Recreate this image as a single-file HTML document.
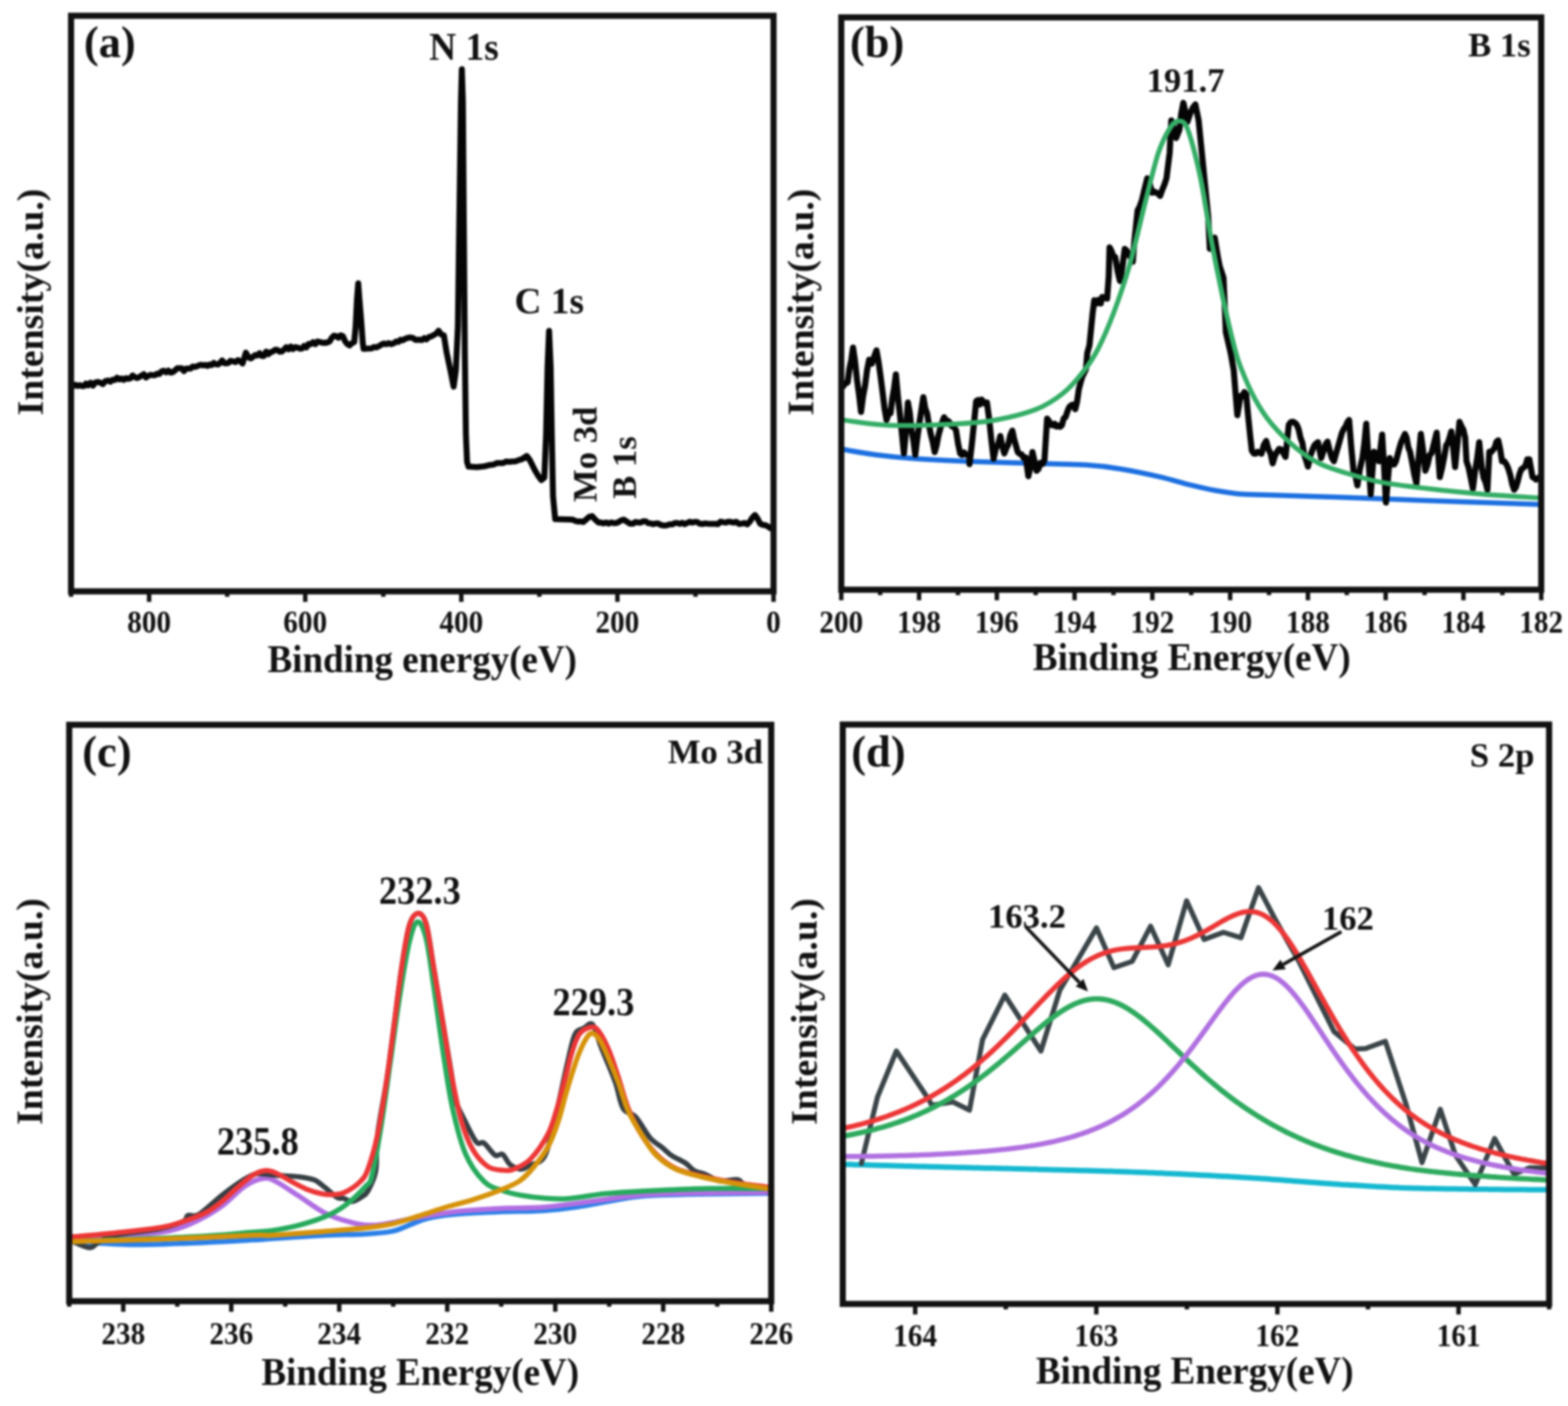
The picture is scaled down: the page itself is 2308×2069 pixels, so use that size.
<!DOCTYPE html>
<html><head><meta charset="utf-8"><title>XPS spectra</title>
<style>html,body{margin:0;padding:0;background:#fff;overflow:hidden}svg{display:block;filter:blur(1.8px)}</style></head>
<body><svg width="2308" height="2069" viewBox="0 0 2308 2069">
<defs><clipPath id="cpa"><rect x="104.6" y="23.2" width="1034" height="847"/></clipPath><clipPath id="cpb"><rect x="1238.3" y="25.6" width="1030.3" height="842.2"/></clipPath><clipPath id="cpc"><rect x="101.9" y="1066.6" width="1033.3" height="848.2"/></clipPath><clipPath id="cpd"><rect x="1240.5" y="1066.2" width="1039.7" height="852.6"/></clipPath></defs>
<rect width="2308" height="2069" fill="#fff"/>
<g font-family="'Liberation Serif','Times New Roman',serif" font-weight="bold" fill="#111">
<g clip-path="url(#cpa)"><path d="M108,568 L111.1,566.2 L114.2,568 L117.3,566.7 L120.3,568.1 L123.4,568.1 L126.5,564.4 L129.6,567 L133.1,563.1 L136.7,567.6 L140.2,563.1 L143.8,562.1 L147.3,563 L151.2,565.2 L155.2,560.8 L159.1,560 L162.4,561.7 L165.7,558.8 L168.9,559.4 L172.2,555.8 L175.5,558.4 L178.8,557 L182.1,559 L185.4,556.5 L188.7,557.5 L191.9,556.8 L195.2,552.5 L198.5,555 L201.8,556.3 L205.1,554.9 L208.3,552.7 L211.6,550.7 L214.9,555.7 L218.2,553 L221.5,551.7 L224.8,552.2 L228.1,552.2 L231.3,550 L234.6,550.3 L237.9,546.5 L241.2,545.6 L244.5,547.9 L247.8,545.4 L251,548.3 L254.3,547.7 L257.6,545 L260.9,542 L264.2,541.8 L267.5,541.9 L270.7,546.2 L274,542.4 L277.3,542.4 L280.5,542.4 L283.6,539.4 L286.8,539.9 L290,539 L293.1,537.6 L296.1,536.8 L299.2,537.7 L302.3,537 L305.4,538.5 L308.5,536.4 L311.5,537.4 L314.6,534 L317.7,535.9 L320.8,536.4 L323.9,534 L327,530.3 L330,534.4 L333.1,534.7 L336.2,534 L339.3,531 L343,531.7 L346.6,532.9 L350.3,529.9 L354,532 L357,535 L361.9,519 L366,526 L369.2,527.4 L372.4,525.1 L375.5,522.5 L378.7,523.2 L382,519.6 L385.3,523.8 L388.5,523.9 L391.8,517.3 L395.1,521 L398.4,518.3 L401.7,517.1 L405,514.7 L408.2,515 L411.5,517.4 L414.8,517.4 L418.1,514.3 L421.4,510.9 L424.7,514.1 L428,509.9 L431.2,513.8 L434.5,510.8 L437.8,511.4 L441.1,513 L444.4,512.8 L447.6,509 L450.9,511.3 L454.2,506.1 L457.5,506.5 L460.8,503.5 L464.1,506.5 L467.4,502.5 L470.6,503.2 L473.9,504.2 L477.2,504.5 L482,504 L485.2,502.4 L488.4,497.1 L491.6,494 L494.8,494.6 L498.1,497 L501.3,493.4 L504.6,494.6 L507.9,502.1 L511.2,506.3 L514.5,508.4 L518,505.1 L521.4,503.4 L523.5,480 L525.5,440 L527.3,417 L529,440 L531.5,470 L534,505 L535.2,513.3 L547.3,512.6 L550.6,510.6 L553.9,511.3 L557.6,509.6 L561.3,507.1 L565,505.5 L568.7,506.4 L572.4,504.9 L576,506.5 L579.7,505 L583.4,502.5 L586.5,503.2 L589.6,499.9 L592.7,500.8 L595.8,498.9 L598.8,497.7 L601.9,496.8 L605,496.7 L608.1,497.5 L611.4,500 L614.7,499.8 L618,500 L621.2,500.3 L624.5,497.6 L627.8,499.5 L631.3,496 L634.9,495 L638.4,493 L642,491 L645.5,486.7 L649.5,492.1 L653.4,493.6 L657.3,518.2 L663,545 L667.7,569 L671,545 L674,480 L676,330 L678.5,150 L679.8,102 L681.3,150 L682.7,330 L684.2,520 L685.8,640 L687.5,680 L689.6,686.6 L702.2,687.3 L706.8,686.8 L711.4,686.3 L716,685.6 L720.6,684.3 L726.2,683.7 L731.7,681.4 L736.1,681.4 L740.6,681.4 L745,679.1 L749.5,679.6 L753.9,679.2 L758.8,678.9 L763.8,677 L768.7,675.5 L775.3,671 L779.8,677 L787.2,691.7 L792,699.9 L796.8,706.5 L801.2,702.8 L803.8,640 L806,540 L808.2,487 L810.5,540 L812.2,640 L814,730 L817.2,763.8 L843,764.7 L846.9,766.6 L850.8,767.6 L854.7,767.2 L858.6,768.1 L862.9,764.4 L867.3,760.6 L871.6,759.5 L876.3,764.8 L881,769 L884.7,769 L888.5,770.2 L892.2,768.9 L895.9,770.5 L899.7,768.8 L903.4,769.8 L907.1,769.6 L910.8,768.1 L914.4,765.7 L918.1,764.7 L922.9,767.8 L927.6,770.7 L931.4,770.7 L935.2,768.2 L939,768.8 L942.8,769 L946.6,767.2 L950.3,767.1 L954,769.8 L957.7,770.1 L961.3,771.4 L965,770.3 L968.7,770.2 L972.4,772.4 L976.7,773.3 L981,773.1 L985.4,771.6 L989.7,771.6 L993.3,769.7 L997,769.7 L1000.6,770.9 L1004.2,769.3 L1007.9,771.3 L1011.5,769.6 L1015.1,767.8 L1018.8,769 L1022.4,768.1 L1026.2,768.1 L1030,770.7 L1033.8,771.1 L1037.6,770.2 L1041.4,770.7 L1045.2,770.9 L1049.1,770.8 L1052.9,770.9 L1056.7,771.3 L1060.6,767.6 L1064.4,768.5 L1068.2,769 L1072.1,767.7 L1075.9,768.1 L1079.9,769 L1083.9,767.8 L1088,771.2 L1092,770.5 L1096,769.6 L1100,771.6 L1103.7,767.6 L1107.5,761.7 L1111.2,757.8 L1115.1,763.2 L1119,770.7 L1122.9,772.4 L1126.8,772.8 L1130.6,774.8 L1134.5,777.6" fill="none" stroke="#050505" stroke-width="8.8" stroke-linejoin="round" stroke-linecap="round" /></g>
<g clip-path="url(#cpb)"><path d="M1240,661.3 C1248.2,662.6 1271.1,666.9 1289.1,669.2 C1307.1,671.5 1325.2,673.5 1348.2,675.1 C1371.2,676.7 1397.4,677.9 1427,679 C1456.6,680.1 1497.3,681.1 1525.6,682 C1553.9,682.9 1576.5,682.8 1597,684.1 C1617.5,685.4 1630.2,687 1648.7,690 C1667.2,693 1690.6,697.9 1707.8,701.9 C1725,705.9 1738.6,710.4 1752.1,713.7 C1765.6,717 1776.7,719.6 1789,721.8 C1801.3,724 1812.3,725.9 1826,727 C1839.7,728.1 1847.7,727.8 1870.9,728.5 C1894.2,729.2 1934,730.4 1965.5,731.5 C1997,732.6 2028.6,733.9 2060.1,735.1 C2091.6,736.3 2120.4,737.4 2154.7,738.6 C2189,739.8 2247.3,741.6 2265.8,742.2" fill="none" stroke="#1c6fe0" stroke-width="7.5" stroke-linejoin="round" stroke-linecap="round" /></g>
<g clip-path="url(#cpb)"><path d="M1240.8,568.7 L1244.2,564.2 L1247.7,562.8 L1250.3,542.6 L1253,530 L1255.6,511.5 L1258.5,531.3 L1261.5,559.1 L1264.5,581.2 L1267.4,606.1 L1270.4,582.9 L1273.3,567.8 L1276.3,544.3 L1279.3,529.3 L1283.2,535.2 L1286.7,524.8 L1290.1,515.5 L1293.1,532.1 L1296,552.8 L1299,576.3 L1301.9,600.4 L1304.9,617.9 L1307.8,609.6 L1310.8,608.1 L1313.4,586.5 L1316.1,571.1 L1318.7,550.9 L1321.7,584 L1324.6,609.7 L1327.5,637.2 L1330.5,667.2 L1333.5,634 L1336.4,592.3 L1339.1,607.4 L1341.8,634 L1344.5,648.1 L1347.2,669.2 L1350.2,644.8 L1353.2,623.4 L1356.1,603.9 L1359.1,584.4 L1361.9,600.7 L1364.7,608.5 L1367.4,625.5 L1370.2,639.5 L1373,650.6 L1375.8,665.2 L1378.6,655.4 L1381.3,640.8 L1384.1,630.5 L1386.8,621.6 L1389.6,614 L1392.1,618.4 L1394.7,619 L1397.2,620.8 L1399.7,626 L1402.2,627.7 L1404.8,629.1 L1407.3,633.7 L1410.3,653.1 L1413.3,667.2 L1416,669.4 L1418.8,665.7 L1421.5,669.1 L1424.3,669 L1427,669.2 L1427,683 L1430.3,655.5 L1433.6,623.3 L1436.9,590.3 L1439.5,588.7 L1442.2,595.3 L1444.8,587.9 L1447.4,590.9 L1450.1,594.3 L1452.7,592.3 L1456,616.8 L1459.2,647.4 L1462.5,675.1 L1465.8,659.8 L1469.1,654.3 L1472.4,641.6 L1475.3,656.8 L1478.3,667.2 L1481.2,659.5 L1484.2,653.8 L1487.1,640.4 L1490.1,633.7 L1492.7,646 L1495.4,655.5 L1498,665.2 L1501,667.9 L1503.9,668.8 L1506.8,674.2 L1509.8,673.1 L1513.7,700.7 L1516.7,687 L1519.7,665.2 L1522.7,678.8 L1525.6,692.8 L1528.5,690.3 L1531.5,680.9 L1534.5,682.8 L1537.4,677 L1541.3,616 L1544.1,619.7 L1546.8,625.2 L1549.6,626 L1552.3,623.5 L1555.1,627.8 L1557.7,626.1 L1560.4,628 L1563,625.8 L1565.8,615.6 L1568.5,613.7 L1571.3,605.1 L1574,598.8 L1576.8,596.3 L1579.8,595.3 L1582.7,602.2 L1585.3,591.5 L1588,572.6 L1590.6,562.8 L1593.2,554 L1595.9,548.7 L1598.5,543.1 L1600.4,519.4 L1603.6,508 L1608.3,460.7 L1610.7,441.8 L1613.9,446.7 L1617,441.2 L1620.2,446.6 L1622.5,437.1 L1626,437.8 L1629.6,439.5 L1632,406.4 L1633.2,363.9 L1635.9,369 L1638.7,376.8 L1641.4,378 L1645,398.6 L1648.5,413.5 L1652,393.1 L1655.6,366.2 L1658.5,368.9 L1661.5,374.9 L1664.5,379.1 L1667.4,385.1 L1669.8,354.4 L1674.5,309.5 L1677.7,303.5 L1680.8,294.8 L1684,281.2 L1688.7,262.3 L1692.2,269.8 L1695.8,283.6 L1698.8,281.9 L1701.7,283.5 L1704.6,284.7 L1707.6,288.3 L1710.7,279.5 L1713.9,271.8 L1717,262.3 L1721.7,224.5 L1724.1,177.2 L1727.7,188.1 L1731.2,203.2 L1735.9,191.4 L1738.8,166.9 L1741.8,151.3 L1744.8,164.7 L1747.7,179.6 L1752.5,165.4 L1756,158.3 L1759.5,153.6 L1764.3,177.2 L1769,224.5 L1773.7,271.7 L1778.4,319 L1780.8,366.2 L1784.3,358.5 L1787.9,349.7 L1792.6,378 L1795.4,392.3 L1798.1,400.2 L1800.9,408.8 L1803.2,460.7 L1804.4,489.1 L1808,504.6 L1811.5,519.8 L1816,545 L1818.7,579 L1821.3,610.9 L1826,582.6 L1828.8,583.4 L1831.5,577 L1834.3,580.2 L1837.1,611.4 L1839.8,637.9 L1842.6,663 L1845.4,667.3 L1848.3,667.6 L1851.1,664.9 L1854,665.9 L1856.8,667.7 L1860.3,654.7 L1863.8,648.8 L1867,661 L1870.1,666.9 L1873.3,681.9 L1876.5,670.9 L1879.6,665.1 L1882.8,660.6 L1885.9,661.5 L1889.1,667 L1892.2,672.4 L1897,625.1 L1900,621.1 L1902.9,620.6 L1905.8,622 L1908.8,625.1 L1911.5,631.8 L1914.3,644.4 L1917,651.6 L1919.8,669.5 L1922.5,677.4 L1925.3,686.6 L1928.8,670.4 L1932.4,660.6 L1934.9,655.1 L1937.5,652.6 L1940,650.7 L1944.7,674.1 L1947.8,664.8 L1950.9,654.5 L1954,649.8 L1957.1,662.6 L1960.3,673.6 L1963.4,678.8 L1966.5,667.6 L1969.6,656.9 L1972.7,646.1 L1975.3,636.8 L1977.9,631.3 L1980.6,627.8 L1983.2,621.5 L1985.8,618 L1989,658.4 L1992.3,692.8 L1995.2,700.5 L1998,714.3 L2001.7,689.9 L2005.4,674.1 L2008.2,652.9 L2011,623.6 L2014.3,675.8 L2017.6,727.4 L2022.2,664.8 L2024.7,666.3 L2027.2,674.5 L2029.7,678.8 L2034.4,639.5 L2037.2,685.2 L2040,739.5 L2042.8,707.1 L2045.6,674.1 L2048.8,683.1 L2052.1,683.5 L2054.6,679 L2057.1,669.7 L2059.6,660.1 L2062.4,650.8 L2065.2,644.6 L2068,638.6 L2070.5,644.3 L2073,658.5 L2075.5,664.8 L2078.6,680.7 L2081.8,698.4 L2084.9,711.5 L2088.2,673.5 L2091.4,638.6 L2094.7,663.2 L2098,692.8 L2101.2,683.9 L2104.5,669.4 L2107.2,666.8 L2110,655.4 L2114.7,636.7 L2119.3,702.1 L2122.4,689.7 L2125.6,673.7 L2128.7,655.4 L2131.2,651.4 L2133.7,643.9 L2136.2,634.9 L2139,658.6 L2141.8,687.2 L2145.1,654.2 L2148.3,620.8 L2151.1,627.3 L2153.9,632.2 L2156.7,644.2 L2158.6,678.8 L2161.7,688 L2164.9,703.6 L2168,719 L2171.1,694.1 L2174.2,675.2 L2177.3,650.7 L2181,688.1 L2183.8,703.1 L2186.6,709.4 L2189.4,720.8 L2192.2,664.8 L2194.8,665.4 L2197.4,662.4 L2200.1,658.8 L2202.7,650.1 L2205.3,647.9 L2208.1,660.8 L2210.9,678.8 L2214.2,678.7 L2217.5,683.5 L2220.3,690.1 L2223.1,699.5 L2225.9,712.6 L2228.7,720.8 L2231.3,716.9 L2233.8,708.9 L2236.4,698.2 L2239,690.9 L2242,688.6 L2245.1,686.1 L2248.1,676 L2251.1,676 L2255.8,702.1 L2258.4,703.5 L2260.9,705.8 L2263.4,704.6 L2266,702.1" fill="none" stroke="#050505" stroke-width="9" stroke-linejoin="round" stroke-linecap="round" /></g>
<g clip-path="url(#cpb)"><path d="M1240,618 C1251.5,619.3 1280.9,624.8 1308.8,625.8 C1336.7,626.8 1381,625.1 1407.3,623.8 C1433.6,622.5 1446.8,621.5 1466.5,617.9 C1486.2,614.3 1509.2,608.8 1525.6,602.2 C1542,595.6 1553.5,587.7 1565,578.5 C1576.5,569.3 1586,557.8 1594.5,547 C1603,536.2 1608.8,527.9 1616.2,513.5 C1623.6,499.1 1631.3,481.3 1639.1,460.7 C1646.8,440.1 1654.8,417.4 1662.7,389.9 C1670.6,362.3 1679.2,323 1686.3,295.4 C1693.4,267.8 1699.3,242.2 1705.2,224.5 C1711.1,206.8 1717,196.8 1721.7,189.1 C1726.4,181.4 1729.6,179.2 1733.6,178.4 C1737.5,177.6 1741.5,177.4 1745.4,184.3 C1749.3,191.2 1753.3,205.2 1757.2,219.8 C1761.1,234.4 1764.7,249.3 1769,271.7 C1773.3,294.1 1778.1,326.8 1783.2,354.4 C1788.3,382 1794.2,411.5 1799.7,437.1 C1805.2,462.7 1811.8,490.9 1816.2,508 C1820.6,525.1 1820.8,526.8 1826,540 C1831.2,553.2 1839.8,573.5 1847.3,587.3 C1854.8,601.1 1861.1,611 1870.9,622.8 C1880.8,634.6 1894.6,648.4 1906.4,658.2 C1918.2,668.1 1928.1,675.2 1941.9,681.9 C1955.7,688.6 1973.4,693.7 1989.2,698.4 C2005,703.1 2016.8,706.8 2036.5,710.3 C2056.2,713.8 2083.8,717 2107.4,719.7 C2131,722.5 2151.9,724.6 2178.3,726.8 C2204.7,729 2251.2,731.7 2265.8,732.7" fill="none" stroke="#34ad66" stroke-width="7.2" stroke-linejoin="round" stroke-linecap="round" /></g>
<g clip-path="url(#cpc)"><path d="M106.8,1826.9 C120.8,1827.7 161.5,1831 190.6,1831.4 C219.7,1831.8 251.1,1830.3 281.3,1829.2 C311.5,1828.1 352.1,1825.7 371.9,1824.6 C391.7,1823.5 382.2,1823.9 400,1822.8 C417.8,1821.7 455.8,1818.9 478.8,1817.8 C501.8,1816.7 521.5,1816.9 537.9,1815.9 C554.3,1814.9 567.4,1813.7 577.3,1811.9 C587.1,1810.1 590.4,1807.5 597,1805 C603.6,1802.5 610.1,1799.4 616.7,1797.1 C623.3,1794.8 626.6,1793 636.5,1791.2 C646.4,1789.4 659.5,1787.6 675.9,1786.3 C692.3,1785 714.3,1784.1 735,1783.3 C755.7,1782.5 780.8,1782.6 800,1781.4 C819.2,1780.2 833.3,1778.4 850,1776 C866.7,1773.6 883.8,1769.7 900,1767 C916.2,1764.3 923.7,1761.7 947,1760 C970.3,1758.3 1009.3,1757.7 1040,1757 C1070.7,1756.3 1115.8,1756.2 1131,1756" fill="none" stroke="#2b80e8" stroke-width="7.5" stroke-linejoin="round" stroke-linecap="round" /></g>
<g clip-path="url(#cpc)"><path d="M106.8,1820 C124.5,1819.3 188,1817.5 213.3,1815.6 C238.6,1813.7 245.4,1812.2 258.6,1808.8 C271.8,1805.4 281.3,1800.9 292.6,1795.2 C303.9,1789.5 315.3,1783.1 326.6,1774.8 C337.9,1766.5 350.4,1752.1 360.6,1745.3 C370.8,1738.5 380.2,1735.1 387.8,1734 C395.4,1732.9 397.3,1734.2 405.9,1738.5 C414.5,1742.8 427.2,1751.9 439.4,1759.7 C451.5,1767.5 465.7,1778.7 478.8,1785.3 C491.9,1791.9 506.7,1796.1 518.2,1799.1 C529.7,1802.1 537.9,1803.1 547.8,1803.1 C557.6,1803.1 565.8,1801.1 577.3,1799.1 C588.8,1797.1 600.3,1794 616.7,1791.2 C633.1,1788.4 656.2,1784.5 675.9,1782.4 C695.6,1780.3 714.3,1779.4 735,1778.4 C755.7,1777.4 777.1,1778.3 800,1776.5 C822.9,1774.7 847.8,1770.7 872.3,1767.7 C896.8,1764.7 919.1,1760.3 947.2,1758.3 C975.3,1756.3 1010.2,1756.1 1040.8,1755.5 C1071.4,1754.9 1116,1754.8 1131,1754.6" fill="none" stroke="#b06ee2" stroke-width="7.5" stroke-linejoin="round" stroke-linecap="round" /></g>
<g clip-path="url(#cpc)"><path d="M106.8,1826.9 C110.9,1828.4 125.3,1835.8 131.7,1836 C138.1,1836.2 139.2,1831 145.3,1828 C151.4,1825 152.9,1821.3 168,1818 C183.1,1814.7 219,1811.5 236,1808 C253,1804.5 263.2,1800.3 270,1797 C276.8,1793.7 272.9,1790 276.7,1788.4 C280.5,1786.8 284.3,1792.1 292.6,1787.2 C300.9,1782.3 317.2,1766.4 326.6,1758.9 C336.1,1751.4 341.8,1747 349.3,1742 C356.9,1737 366.2,1731.5 371.9,1729 C377.6,1726.5 377.6,1727.1 383.3,1727.2 C389,1727.3 396.5,1728.8 405.9,1729.5 C415.3,1730.2 430.4,1730.6 439.9,1731.7 C449.3,1732.8 456.2,1733.7 462.6,1736.3 C469,1738.9 472.7,1743.3 478.4,1747.6 C484.1,1751.9 492.1,1759.7 496.6,1762.3 C501.1,1764.9 501.8,1762.5 505.6,1763.4 C509.4,1764.4 514.5,1768.5 519.2,1768 C523.9,1767.5 529.9,1763.1 533.7,1760.4 C537.5,1757.8 538.6,1758.4 541.9,1752.1 C545.1,1745.8 550.9,1736.4 553.2,1722.7 C555.5,1709 553,1692.4 555.7,1669.8 C558.4,1647.2 565.4,1614.8 569.5,1587.3 C573.6,1559.8 576.9,1532.4 580.5,1504.9 C584.1,1477.4 587.8,1446.2 591.4,1422.4 C595,1398.6 598.5,1375 602.4,1362 C606.3,1349 610.7,1344.6 614.8,1344.1 C618.9,1343.6 623.3,1346.2 627.2,1359.2 C631.1,1372.2 634.1,1398.1 638.2,1422.4 C642.3,1446.7 647.3,1477.4 651.9,1504.9 C656.5,1532.4 662.9,1569 665.6,1587.3 C668.4,1605.6 665.2,1604.3 668.4,1614.8 C671.6,1625.3 679.4,1639.5 684.9,1650.5 C690.4,1661.5 696.8,1675.4 701.4,1680.7 C706,1686 707.8,1678.9 712.4,1682.1 C717,1685.3 724.3,1697.2 728.9,1700 C733.5,1702.8 736.1,1696.3 739.8,1698.6 C743.4,1700.9 746.2,1710 750.8,1713.7 C755.4,1717.4 762.6,1720.3 767.3,1720.6 C771.9,1720.9 773.1,1718.4 778.7,1715.3 C784.4,1712.2 795,1713.1 801.2,1702.2 C807.5,1691.3 810.6,1672.6 816.2,1649.8 C821.8,1627 829.9,1586.7 834.9,1565.5 C839.9,1544.3 842,1531.2 846.1,1522.5 C850.2,1513.8 854.8,1515.6 859.2,1513.1 C863.6,1510.6 868.2,1503.5 872.3,1507.5 C876.3,1511.5 880.4,1529.3 883.5,1537.4 C886.6,1545.5 887.2,1546.8 891,1556.2 C894.8,1565.6 901.6,1581.1 906,1593.6 C910.4,1606.1 912.2,1622.6 917.2,1631 C922.2,1639.4 929.4,1636.9 936,1644.1 C942.6,1651.3 950.1,1666.6 956.6,1674.1 C963.1,1681.6 970,1684.7 975.3,1689.1 C980.6,1693.5 982.8,1696.6 988.4,1700.3 C994,1704 1003.4,1707.8 1009,1711.5 C1014.6,1715.2 1017.1,1720 1022.1,1722.8 C1027.1,1725.6 1032.7,1725.9 1038.9,1728.4 C1045.1,1730.9 1051.7,1736.5 1059.5,1737.7 C1067.3,1739 1079.5,1735 1085.7,1735.9 C1092,1736.9 1089.5,1741.5 1097,1743.4 C1104.5,1745.3 1125.3,1746.5 1131,1747.1" fill="none" stroke="#363f44" stroke-width="7.5" stroke-linejoin="round" stroke-linecap="round" /></g>
<g clip-path="url(#cpc)"><path d="M106.8,1826.9 C135.9,1825.8 237.1,1822.4 281.3,1820.1 C325.5,1817.8 352.1,1814.8 371.9,1813.3 C391.7,1811.8 388.8,1812.6 400,1810.9 C411.2,1809.2 426.3,1806.5 439.4,1803.1 C452.5,1799.6 467.3,1795.1 478.8,1790.2 C490.3,1785.3 498.5,1780.9 508.4,1773.5 C518.2,1766.1 531.4,1753.1 537.9,1745.9 C544.4,1738.7 543.6,1745.2 547.5,1730.2 C551.4,1715.2 556.6,1684.4 561.2,1656 C565.8,1627.6 570.4,1591.8 575,1559.8 C579.6,1527.8 584.1,1492.5 588.7,1463.7 C593.3,1434.9 598,1404.6 602.4,1386.7 C606.8,1368.8 610.7,1357.4 614.8,1356.5 C618.9,1355.6 623.3,1365.6 627.2,1381.2 C631.1,1396.8 634.1,1422.4 638.2,1449.9 C642.3,1477.4 647.3,1516.3 651.9,1546.1 C656.5,1575.9 660.1,1603.3 665.6,1628.5 C671.1,1653.7 677.1,1678.9 684.9,1697.2 C692.7,1715.5 703.2,1729.4 712.4,1738.5 C721.5,1747.6 730.6,1748.6 739.8,1752 C748.9,1755.4 757.3,1757.2 767.3,1759 C777.3,1760.8 788.7,1762.2 800,1763 C811.3,1763.8 819.7,1765 834.9,1763.9 C850.1,1762.8 872.3,1758.4 891,1756.5 C909.7,1754.6 922.2,1754 947.2,1752.7 C972.2,1751.5 1010.2,1749.6 1040.8,1749 C1071.4,1748.4 1116,1749 1131,1749" fill="none" stroke="#26aa5c" stroke-width="7.5" stroke-linejoin="round" stroke-linecap="round" /></g>
<g clip-path="url(#cpc)"><path d="M106.8,1820.1 C117,1819.1 146.5,1816.7 168,1814.4 C189.5,1812.1 219,1809.3 236,1806.5 C253,1803.7 258.7,1801.2 270,1797.4 C281.3,1793.6 294.6,1788.7 304,1783.8 C313.4,1778.9 319.1,1774 326.6,1768 C334.2,1762 341.8,1754 349.3,1747.6 C356.9,1741.2 365.1,1733.7 371.9,1729.5 C378.7,1725.3 384.3,1723.3 390,1722.7 C395.7,1722.1 399.5,1723.5 405.9,1726.1 C412.3,1728.7 421.1,1734.5 428.6,1738.5 C436.2,1742.5 443.6,1746.9 451.2,1749.9 C458.8,1752.9 467.1,1755.4 473.9,1756.7 C480.7,1758 486.3,1758.2 492,1757.8 C497.7,1757.4 501.5,1757.6 507.9,1754.4 C514.3,1751.2 524.8,1744.4 530.5,1738.5 C536.2,1732.6 537.8,1730.7 542,1719.2 C546.2,1707.8 551.1,1691.8 555.7,1669.8 C560.3,1647.8 565.4,1614.8 569.5,1587.3 C573.6,1559.8 576.9,1532.4 580.5,1504.9 C584.1,1477.4 587.8,1446.2 591.4,1422.4 C595,1398.6 598.5,1375 602.4,1362 C606.3,1349 610.7,1344.6 614.8,1344.1 C618.9,1343.6 623.3,1346.2 627.2,1359.2 C631.1,1372.2 634.1,1398.1 638.2,1422.4 C642.3,1446.7 647.3,1477.4 651.9,1504.9 C656.5,1532.4 661,1563 665.6,1587.3 C670.2,1611.6 674.4,1633.1 679.4,1650.5 C684.4,1667.9 689.5,1680.7 695.9,1691.7 C702.3,1702.7 710.6,1711.5 717.9,1716.5 C725.2,1721.5 733.4,1721.3 739.8,1722 C746.2,1722.7 749.4,1723.3 756.3,1720.6 C763.2,1717.8 772.6,1714.2 781,1705.5 C789.4,1696.8 800.3,1680.9 806.8,1668.5 C813.3,1656.1 815.8,1644.1 819.9,1631 C824,1617.9 827.4,1603.9 831.1,1589.9 C834.9,1575.9 838.6,1558.3 842.4,1546.8 C846.1,1535.2 848.6,1526.5 853.6,1520.6 C858.6,1514.7 867.3,1511.2 872.3,1511.2 C877.3,1511.2 879.4,1514.7 883.5,1520.6 C887.6,1526.5 892.3,1536.2 896.7,1546.8 C901.1,1557.4 905.1,1570.2 909.8,1584.2 C914.5,1598.2 919.1,1617 924.7,1631 C930.3,1645 936.6,1657.3 943.5,1668.5 C950.4,1679.7 957.5,1690 965.9,1698.4 C974.3,1706.8 983.1,1713.7 994,1719 C1004.9,1724.3 1017.4,1726.9 1031.4,1730.3 C1045.4,1733.7 1061.6,1736.8 1078.2,1739.6 C1094.8,1742.4 1122.2,1745.8 1131,1747.1" fill="none" stroke="#ec3636" stroke-width="7.5" stroke-linejoin="round" stroke-linecap="round" /></g>
<g clip-path="url(#cpc)"><path d="M106.8,1826.9 C128.3,1826.3 191.8,1825 236,1823.5 C280.2,1822 344.6,1818.8 371.9,1817.8 C399.2,1816.8 382.2,1818.8 400,1817.8 C417.8,1816.8 455.8,1813.7 478.8,1811.9 C501.8,1810.1 521.5,1808.8 537.9,1807 C554.3,1805.2 564.2,1804 577.3,1801.1 C590.4,1798.1 603.6,1793.4 616.7,1789.3 C629.9,1785.2 643.1,1780.5 656.2,1776.5 C669.4,1772.5 682.5,1769.7 695.6,1765.6 C708.7,1761.5 723.5,1756.4 735,1751.8 C746.5,1747.2 756.2,1743.6 764.5,1738 C772.8,1732.4 778,1726.5 785,1718 C792,1709.5 800.7,1698.6 806.8,1687.2 C812.9,1675.8 817.1,1663.8 821.8,1649.8 C826.5,1635.8 830.2,1618.6 834.9,1603 C839.6,1587.4 845.2,1568.7 849.9,1556.2 C854.6,1543.7 859.3,1534 863,1528.1 C866.7,1522.2 868.9,1520 872.3,1520.6 C875.7,1521.2 879.4,1525.2 883.5,1531.8 C887.6,1538.3 892.3,1549.9 896.7,1559.9 C901.1,1569.9 905.1,1579.5 909.8,1592 C914.5,1604.5 918.5,1621.3 924.7,1635 C930.9,1648.7 940.3,1663.2 947.2,1674 C954.1,1684.8 958.1,1692.3 965.9,1700 C973.7,1707.7 983.1,1714.8 994,1720 C1004.9,1725.2 1017.4,1728 1031.4,1731.5 C1045.4,1735 1061.6,1738.1 1078.2,1741 C1094.8,1743.9 1122.2,1747.7 1131,1749" fill="none" stroke="#d6920a" stroke-width="7.5" stroke-linejoin="round" stroke-linecap="round" /></g>
<g clip-path="url(#cpd)"><path d="M1244,1713.4 L1248,1713.5 L1252,1713.6 L1256,1713.8 L1260,1713.9 L1264,1714 L1268,1714.1 L1272,1714.2 L1276,1714.3 L1280,1714.5 L1284,1714.6 L1288,1714.7 L1292,1714.8 L1296,1714.9 L1300,1715 L1304,1715.1 L1308,1715.2 L1312,1715.3 L1316,1715.5 L1320,1715.6 L1324,1715.7 L1328,1715.8 L1332,1715.9 L1336,1716 L1340,1716.1 L1344,1716.2 L1348,1716.3 L1352,1716.4 L1356,1716.5 L1360,1716.6 L1364,1716.7 L1368,1716.8 L1372,1716.9 L1376,1717 L1380,1717.1 L1384,1717.2 L1388,1717.3 L1392,1717.4 L1396,1717.5 L1400,1717.6 L1404,1717.7 L1408,1717.8 L1412,1717.9 L1416,1718 L1420,1718.1 L1424,1718.2 L1428,1718.3 L1432,1718.4 L1436,1718.5 L1440,1718.6 L1444,1718.7 L1448,1718.8 L1452,1718.9 L1456,1719 L1460,1719.1 L1464,1719.1 L1468,1719.2 L1472,1719.3 L1476,1719.4 L1480,1719.5 L1484,1719.6 L1488,1719.7 L1492,1719.8 L1496,1719.9 L1500,1720 L1504,1720.1 L1508,1720.2 L1512,1720.3 L1516,1720.4 L1520,1720.5 L1524,1720.6 L1528,1720.7 L1532,1720.9 L1536,1721 L1540,1721.1 L1544,1721.2 L1548,1721.3 L1552,1721.4 L1556,1721.5 L1560,1721.6 L1564,1721.7 L1568,1721.8 L1572,1721.9 L1576,1722 L1580,1722.1 L1584,1722.2 L1588,1722.3 L1592,1722.4 L1596,1722.5 L1600,1722.6 L1604,1722.7 L1608,1722.8 L1612,1722.9 L1616,1723 L1620,1723.2 L1624,1723.3 L1628,1723.4 L1632,1723.5 L1636,1723.6 L1640,1723.8 L1644,1723.9 L1648,1724 L1652,1724.2 L1656,1724.3 L1660,1724.4 L1664,1724.6 L1668,1724.7 L1672,1724.9 L1676,1725 L1680,1725.2 L1684,1725.3 L1688,1725.5 L1692,1725.7 L1696,1725.8 L1700,1726 L1704,1726.2 L1708,1726.3 L1712,1726.5 L1716,1726.7 L1720,1726.9 L1724,1727.1 L1728,1727.2 L1732,1727.4 L1736,1727.6 L1740,1727.8 L1744,1728 L1748,1728.2 L1752,1728.4 L1756,1728.6 L1760,1728.8 L1764,1729 L1768,1729.2 L1772,1729.4 L1776,1729.6 L1780,1729.8 L1784,1730 L1788,1730.3 L1792,1730.5 L1796,1730.7 L1800,1730.9 L1804,1731.1 L1808,1731.3 L1812,1731.6 L1816,1731.8 L1820,1732 L1824,1732.2 L1828,1732.5 L1832,1732.7 L1836,1733 L1840,1733.2 L1844,1733.5 L1848,1733.7 L1852,1734 L1856,1734.3 L1860,1734.5 L1864,1734.8 L1868,1735.1 L1872,1735.4 L1876,1735.7 L1880,1736 L1884,1736.3 L1888,1736.6 L1892,1736.9 L1896,1737.2 L1900,1737.6 L1904,1737.9 L1908,1738.2 L1912,1738.5 L1916,1738.8 L1920,1739.1 L1924,1739.4 L1928,1739.7 L1932,1740 L1936,1740.3 L1940,1740.6 L1944,1740.9 L1948,1741.2 L1952,1741.5 L1956,1741.8 L1960,1742.1 L1964,1742.4 L1968,1742.6 L1972,1742.9 L1976,1743.2 L1980,1743.4 L1984,1743.6 L1988,1743.9 L1992,1744.1 L1996,1744.3 L2000,1744.6 L2004,1744.8 L2008,1745 L2012,1745.3 L2016,1745.5 L2020,1745.7 L2024,1746 L2028,1746.2 L2032,1746.4 L2036,1746.6 L2040,1746.8 L2044,1747 L2048,1747.2 L2052,1747.4 L2056,1747.6 L2060,1747.8 L2064,1747.9 L2068,1748.1 L2072,1748.2 L2076,1748.3 L2080,1748.4 L2084,1748.5 L2088,1748.6 L2092,1748.7 L2096,1748.8 L2100,1748.9 L2104,1749 L2108,1749.1 L2112,1749.1 L2116,1749.2 L2120,1749.3 L2124,1749.3 L2128,1749.4 L2132,1749.5 L2136,1749.5 L2140,1749.6 L2144,1749.6 L2148,1749.7 L2152,1749.7 L2156,1749.8 L2160,1749.8 L2164,1749.9 L2168,1749.9 L2172,1750 L2176,1750 L2180,1750.1 L2184,1750.1 L2188,1750.1 L2192,1750.2 L2196,1750.2 L2200,1750.3 L2204,1750.3 L2208,1750.3 L2212,1750.4 L2216,1750.4 L2220,1750.4 L2224,1750.5 L2228,1750.5 L2232,1750.5 L2236,1750.6 L2240,1750.6 L2244,1750.6 L2248,1750.7 L2252,1750.7 L2256,1750.7 L2260,1750.7 L2264,1750.7 L2268,1750.8 L2272,1750.8 L2276,1750.8" fill="none" stroke="#14b8d0" stroke-width="8" stroke-linejoin="round" stroke-linecap="round" /></g>
<g clip-path="url(#cpd)"><path d="M1268,1712 L1271,1699 L1291.6,1614.3 L1319.4,1546.6 L1367.8,1619.1 L1371.4,1626.4 L1402.8,1621.6 L1427,1633.7 L1446.3,1529.7 L1479,1464.4 L1532.2,1546.6 L1560,1457.2 L1614,1365.5 L1639.6,1424 L1666.5,1414.7 L1693.6,1363 L1719.5,1419.8 L1746.6,1325.5 L1772.4,1382.4 L1800.8,1372 L1826.7,1379.8 L1852.5,1306.2 L1878.3,1355.2 L1911.9,1414.7 L1942.9,1476.7 L1963.6,1518 L1994.6,1543.8 L2010,1543.1 L2039.2,1532.3 L2070,1626.2 L2093.1,1710.8 L2120,1632.3 L2142.3,1700 L2171.5,1743.1 L2200,1675.4 L2228.5,1727.7 L2251.5,1718.5 L2276,1718.5" fill="none" stroke="#3a4448" stroke-width="7.5" stroke-linejoin="round" stroke-linecap="round" /></g>
<g clip-path="url(#cpd)"><path d="M1244,1671.3 L1248,1670.6 L1252,1669.9 L1256,1669.1 L1260,1668.2 L1264,1667.4 L1268,1666.5 L1272,1665.6 L1276,1664.7 L1280,1663.7 L1284,1662.7 L1288,1661.7 L1292,1660.6 L1296,1659.5 L1300,1658.4 L1304,1657.2 L1308,1656 L1312,1654.7 L1316,1653.4 L1320,1652.1 L1324,1650.7 L1328,1649.3 L1332,1647.8 L1336,1646.3 L1340,1644.8 L1344,1643.1 L1348,1641.5 L1352,1639.8 L1356,1638 L1360,1636.2 L1364,1634.4 L1368,1632.5 L1372,1630.5 L1376,1628.5 L1380,1626.4 L1384,1624.3 L1388,1622.1 L1392,1619.9 L1396,1617.6 L1400,1615.2 L1404,1612.8 L1408,1610.3 L1412,1607.8 L1416,1605.2 L1420,1602.6 L1424,1599.9 L1428,1597.1 L1432,1594.3 L1436,1591.4 L1440,1588.5 L1444,1585.5 L1448,1582.5 L1452,1579.4 L1456,1576.2 L1460,1573 L1464,1569.8 L1468,1566.5 L1472,1563.2 L1476,1559.8 L1480,1556.4 L1484,1552.9 L1488,1549.5 L1492,1546 L1496,1542.5 L1500,1538.9 L1504,1535.4 L1508,1531.9 L1512,1528.4 L1516,1524.9 L1520,1521.4 L1524,1517.9 L1528,1514.5 L1532,1511.1 L1536,1507.8 L1540,1504.6 L1544,1501.4 L1548,1498.3 L1552,1495.4 L1556,1492.5 L1560,1489.7 L1564,1487.1 L1568,1484.7 L1572,1482.4 L1576,1480.2 L1580,1478.2 L1584,1476.5 L1588,1474.9 L1592,1473.5 L1596,1472.3 L1600,1471.4 L1604,1470.6 L1608,1470.1 L1612,1469.9 L1616,1469.8 L1620,1470.1 L1624,1470.5 L1628,1471.2 L1632,1472.1 L1636,1473.2 L1640,1474.5 L1644,1476.1 L1648,1477.9 L1652,1479.8 L1656,1482 L1660,1484.3 L1664,1486.9 L1668,1489.5 L1672,1492.4 L1676,1495.3 L1680,1498.4 L1684,1501.6 L1688,1505 L1692,1508.4 L1696,1511.9 L1700,1515.4 L1704,1519 L1708,1522.7 L1712,1526.5 L1716,1530.2 L1720,1534 L1724,1537.8 L1728,1541.6 L1732,1545.4 L1736,1549.2 L1740,1553.1 L1744,1556.8 L1748,1560.6 L1752,1564.3 L1756,1568.1 L1760,1571.7 L1764,1575.4 L1768,1579 L1772,1582.5 L1776,1586.1 L1780,1589.5 L1784,1592.9 L1788,1596.3 L1792,1599.6 L1796,1602.9 L1800,1606.1 L1804,1609.2 L1808,1612.3 L1812,1615.4 L1816,1618.4 L1820,1621.3 L1824,1624.1 L1828,1627 L1832,1629.7 L1836,1632.4 L1840,1635.1 L1844,1637.7 L1848,1640.2 L1852,1642.8 L1856,1645.2 L1860,1647.6 L1864,1650 L1868,1652.3 L1872,1654.6 L1876,1656.8 L1880,1658.9 L1884,1661.1 L1888,1663.1 L1892,1665.2 L1896,1667.2 L1900,1669.1 L1904,1671 L1908,1672.8 L1912,1674.7 L1916,1676.4 L1920,1678.2 L1924,1679.8 L1928,1681.5 L1932,1683.1 L1936,1684.6 L1940,1686.2 L1944,1687.7 L1948,1689.1 L1952,1690.5 L1956,1691.9 L1960,1693.2 L1964,1694.5 L1968,1695.8 L1972,1697 L1976,1698.2 L1980,1699.4 L1984,1700.5 L1988,1701.6 L1992,1702.7 L1996,1703.7 L2000,1704.8 L2004,1705.8 L2008,1706.7 L2012,1707.7 L2016,1708.6 L2020,1709.5 L2024,1710.4 L2028,1711.3 L2032,1712.1 L2036,1713 L2040,1713.8 L2044,1714.5 L2048,1715.3 L2052,1716 L2056,1716.7 L2060,1717.4 L2064,1718.1 L2068,1718.7 L2072,1719.4 L2076,1720 L2080,1720.5 L2084,1721.1 L2088,1721.6 L2092,1722.1 L2096,1722.6 L2100,1723.1 L2104,1723.6 L2108,1724 L2112,1724.5 L2116,1724.9 L2120,1725.3 L2124,1725.7 L2128,1726.1 L2132,1726.5 L2136,1726.9 L2140,1727.3 L2144,1727.7 L2148,1728 L2152,1728.4 L2156,1728.7 L2160,1729 L2164,1729.4 L2168,1729.7 L2172,1730 L2176,1730.3 L2180,1730.6 L2184,1730.9 L2188,1731.2 L2192,1731.5 L2196,1731.8 L2200,1732 L2204,1732.3 L2208,1732.6 L2212,1732.8 L2216,1733.1 L2220,1733.3 L2224,1733.6 L2228,1733.8 L2232,1734 L2236,1734.3 L2240,1734.5 L2244,1734.7 L2248,1734.9 L2252,1735.1 L2256,1735.3 L2260,1735.5 L2264,1735.7 L2268,1735.9 L2272,1736.1 L2276,1736.3" fill="none" stroke="#2eaa5e" stroke-width="7.8" stroke-linejoin="round" stroke-linecap="round" /></g>
<g clip-path="url(#cpd)"><path d="M1244,1701.8 L1248,1701.8 L1252,1701.8 L1256,1701.8 L1260,1701.7 L1264,1701.7 L1268,1701.6 L1272,1701.6 L1276,1701.5 L1280,1701.5 L1284,1701.4 L1288,1701.4 L1292,1701.3 L1296,1701.2 L1300,1701.2 L1304,1701.1 L1308,1701 L1312,1700.9 L1316,1700.8 L1320,1700.7 L1324,1700.6 L1328,1700.5 L1332,1700.4 L1336,1700.3 L1340,1700.2 L1344,1700 L1348,1699.9 L1352,1699.8 L1356,1699.6 L1360,1699.5 L1364,1699.3 L1368,1699.2 L1372,1699 L1376,1698.8 L1380,1698.6 L1384,1698.4 L1388,1698.2 L1392,1698 L1396,1697.8 L1400,1697.6 L1404,1697.4 L1408,1697.1 L1412,1696.9 L1416,1696.6 L1420,1696.4 L1424,1696.1 L1428,1695.8 L1432,1695.5 L1436,1695.3 L1440,1694.9 L1444,1694.6 L1448,1694.3 L1452,1693.9 L1456,1693.6 L1460,1693.2 L1464,1692.8 L1468,1692.4 L1472,1692 L1476,1691.6 L1480,1691.2 L1484,1690.7 L1488,1690.2 L1492,1689.7 L1496,1689.2 L1500,1688.7 L1504,1688.2 L1508,1687.6 L1512,1687 L1516,1686.4 L1520,1685.7 L1524,1685.1 L1528,1684.4 L1532,1683.7 L1536,1682.9 L1540,1682.1 L1544,1681.3 L1548,1680.5 L1552,1679.6 L1556,1678.7 L1560,1677.7 L1564,1676.7 L1568,1675.7 L1572,1674.6 L1576,1673.5 L1580,1672.3 L1584,1671.1 L1588,1669.8 L1592,1668.5 L1596,1667.1 L1600,1665.7 L1604,1664.2 L1608,1662.6 L1612,1661 L1616,1659.3 L1620,1657.6 L1624,1655.7 L1628,1653.8 L1632,1651.8 L1636,1649.8 L1640,1647.6 L1644,1645.4 L1648,1643.1 L1652,1640.7 L1656,1638.2 L1660,1635.6 L1664,1632.9 L1668,1630.1 L1672,1627.2 L1676,1624.2 L1680,1621.1 L1684,1617.9 L1688,1614.6 L1692,1611.1 L1696,1607.6 L1700,1603.9 L1704,1600.1 L1708,1596.2 L1712,1592.1 L1716,1587.9 L1720,1583.7 L1724,1579.2 L1728,1574.7 L1732,1570.1 L1736,1565.3 L1740,1560.4 L1744,1555.5 L1748,1550.4 L1752,1545.2 L1756,1539.9 L1760,1534.6 L1764,1529.2 L1768,1523.7 L1772,1518.2 L1776,1512.7 L1780,1507.1 L1784,1501.6 L1788,1496.1 L1792,1490.6 L1796,1485.2 L1800,1479.9 L1804,1474.8 L1808,1469.8 L1812,1465 L1816,1460.4 L1820,1456.1 L1824,1452.1 L1828,1448.4 L1832,1445 L1836,1442 L1840,1439.5 L1844,1437.4 L1848,1435.7 L1852,1434.5 L1856,1433.8 L1860,1433.6 L1864,1433.9 L1868,1434.7 L1872,1436 L1876,1437.8 L1880,1440 L1884,1442.7 L1888,1445.9 L1892,1449.4 L1896,1453.3 L1900,1457.6 L1904,1462.2 L1908,1467 L1912,1472.2 L1916,1477.5 L1920,1483 L1924,1488.7 L1928,1494.5 L1932,1500.5 L1936,1506.4 L1940,1512.5 L1944,1518.5 L1948,1524.6 L1952,1530.6 L1956,1536.6 L1960,1542.6 L1964,1548.5 L1968,1554.3 L1972,1560 L1976,1565.6 L1980,1571.1 L1984,1576.5 L1988,1581.8 L1992,1587 L1996,1592.1 L2000,1597 L2004,1601.8 L2008,1606.5 L2012,1611.1 L2016,1615.5 L2020,1619.8 L2024,1624 L2028,1628.1 L2032,1632 L2036,1635.9 L2040,1639.6 L2044,1643.1 L2048,1646.6 L2052,1649.9 L2056,1653.1 L2060,1656.2 L2064,1659.2 L2068,1662.1 L2072,1664.9 L2076,1667.5 L2080,1670.1 L2084,1672.5 L2088,1674.9 L2092,1677.2 L2096,1679.3 L2100,1681.4 L2104,1683.5 L2108,1685.4 L2112,1687.3 L2116,1689.1 L2120,1690.8 L2124,1692.5 L2128,1694.1 L2132,1695.7 L2136,1697.1 L2140,1698.6 L2144,1699.9 L2148,1701.3 L2152,1702.5 L2156,1703.8 L2160,1705 L2164,1706.1 L2168,1707.2 L2172,1708.3 L2176,1709.3 L2180,1710.3 L2184,1711.2 L2188,1712.1 L2192,1713 L2196,1713.9 L2200,1714.7 L2204,1715.5 L2208,1716.3 L2212,1717.1 L2216,1717.8 L2220,1718.5 L2224,1719.2 L2228,1719.8 L2232,1720.5 L2236,1721.1 L2240,1721.7 L2244,1722.3 L2248,1722.9 L2252,1723.4 L2256,1723.9 L2260,1724.4 L2264,1724.9 L2268,1725.4 L2272,1725.9 L2276,1726.4" fill="none" stroke="#b070e0" stroke-width="7.5" stroke-linejoin="round" stroke-linecap="round" /></g>
<g clip-path="url(#cpd)"><path d="M1244,1659.8 L1248,1658.9 L1252,1658 L1256,1657.1 L1260,1656.1 L1264,1655.1 L1268,1654.1 L1272,1653 L1276,1651.9 L1280,1650.8 L1284,1649.6 L1288,1648.4 L1292,1647.1 L1296,1645.9 L1300,1644.5 L1304,1643.2 L1308,1641.8 L1312,1640.3 L1316,1638.8 L1320,1637.3 L1324,1635.7 L1328,1634 L1332,1632.4 L1336,1630.6 L1340,1628.8 L1344,1627 L1348,1625.1 L1352,1623.2 L1356,1621.2 L1360,1619.1 L1364,1617 L1368,1614.8 L1372,1612.6 L1376,1610.3 L1380,1607.9 L1384,1605.5 L1388,1603 L1392,1600.5 L1396,1597.9 L1400,1595.2 L1404,1592.5 L1408,1589.7 L1412,1586.8 L1416,1583.9 L1420,1580.9 L1424,1577.8 L1428,1574.7 L1432,1571.5 L1436,1568.2 L1440,1564.9 L1444,1561.5 L1448,1558 L1452,1554.5 L1456,1550.9 L1460,1547.2 L1464,1543.5 L1468,1539.7 L1472,1535.8 L1476,1531.9 L1480,1528 L1484,1524 L1488,1520 L1492,1515.9 L1496,1511.8 L1500,1507.6 L1504,1503.4 L1508,1499.2 L1512,1495 L1516,1490.8 L1520,1486.6 L1524,1482.4 L1528,1478.1 L1532,1474 L1536,1469.8 L1540,1465.7 L1544,1461.6 L1548,1457.6 L1552,1453.6 L1556,1449.7 L1560,1445.9 L1564,1442.2 L1568,1438.6 L1572,1435.1 L1576,1431.7 L1580,1428.5 L1584,1425.4 L1588,1422.4 L1592,1419.6 L1596,1417 L1600,1414.5 L1604,1412.1 L1608,1410 L1612,1408 L1616,1406.1 L1620,1404.4 L1624,1402.9 L1628,1401.6 L1632,1400.4 L1636,1399.3 L1640,1398.4 L1644,1397.6 L1648,1396.9 L1652,1396.4 L1656,1395.9 L1660,1395.5 L1664,1395.2 L1668,1394.9 L1672,1394.7 L1676,1394.5 L1680,1394.4 L1684,1394.2 L1688,1394 L1692,1393.8 L1696,1393.6 L1700,1393.3 L1704,1393 L1708,1392.5 L1712,1392 L1716,1391.5 L1720,1390.8 L1724,1390 L1728,1389.1 L1732,1388.1 L1736,1386.9 L1740,1385.7 L1744,1384.3 L1748,1382.8 L1752,1381.2 L1756,1379.4 L1760,1377.5 L1764,1375.6 L1768,1373.5 L1772,1371.3 L1776,1369.1 L1780,1366.8 L1784,1364.5 L1788,1362.1 L1792,1359.8 L1796,1357.4 L1800,1355.1 L1804,1352.9 L1808,1350.8 L1812,1348.8 L1816,1347 L1820,1345.4 L1824,1344 L1828,1342.8 L1832,1342 L1836,1341.5 L1840,1341.4 L1844,1341.6 L1848,1342.2 L1852,1343.3 L1856,1344.8 L1860,1346.7 L1864,1349 L1868,1351.9 L1872,1355.1 L1876,1358.8 L1880,1363 L1884,1367.5 L1888,1372.4 L1892,1377.6 L1896,1383.2 L1900,1389.1 L1904,1395.3 L1908,1401.7 L1912,1408.3 L1916,1415.1 L1920,1422.1 L1924,1429.1 L1928,1436.3 L1932,1443.5 L1936,1450.7 L1940,1458 L1944,1465.2 L1948,1472.4 L1952,1479.6 L1956,1486.7 L1960,1493.7 L1964,1500.6 L1968,1507.4 L1972,1514.1 L1976,1520.7 L1980,1527.1 L1984,1533.4 L1988,1539.6 L1992,1545.6 L1996,1551.5 L2000,1557.2 L2004,1562.8 L2008,1568.2 L2012,1573.5 L2016,1578.6 L2020,1583.6 L2024,1588.5 L2028,1593.2 L2032,1597.8 L2036,1602.2 L2040,1606.5 L2044,1610.6 L2048,1614.7 L2052,1618.5 L2056,1622.3 L2060,1625.9 L2064,1629.4 L2068,1632.8 L2072,1636 L2076,1639.1 L2080,1642.1 L2084,1645 L2088,1647.8 L2092,1650.5 L2096,1653.1 L2100,1655.6 L2104,1658 L2108,1660.4 L2112,1662.6 L2116,1664.8 L2120,1666.9 L2124,1668.9 L2128,1670.9 L2132,1672.7 L2136,1674.5 L2140,1676.3 L2144,1678 L2148,1679.6 L2152,1681.2 L2156,1682.7 L2160,1684.2 L2164,1685.6 L2168,1687 L2172,1688.3 L2176,1689.6 L2180,1690.8 L2184,1692 L2188,1693.2 L2192,1694.3 L2196,1695.4 L2200,1696.5 L2204,1697.5 L2208,1698.5 L2212,1699.5 L2216,1700.4 L2220,1701.4 L2224,1702.3 L2228,1703.1 L2232,1704 L2236,1704.8 L2240,1705.6 L2244,1706.3 L2248,1707.1 L2252,1707.8 L2256,1708.5 L2260,1709.2 L2264,1709.9 L2268,1710.6 L2272,1711.2 L2276,1711.8" fill="none" stroke="#ec3636" stroke-width="7.5" stroke-linejoin="round" stroke-linecap="round" /></g>
<rect x="104.6" y="23.2" width="1034" height="847" fill="none" stroke="#111" stroke-width="9"/>
<line x1="219.5" y1="870.2" x2="219.5" y2="885.7" stroke="#111" stroke-width="6.5"/>
<text transform="translate(219.5 931) scale(1 1.1)" font-size="43" text-anchor="middle" >800</text>
<line x1="449.3" y1="870.2" x2="449.3" y2="885.7" stroke="#111" stroke-width="6.5"/>
<text transform="translate(449.3 931) scale(1 1.1)" font-size="43" text-anchor="middle" >600</text>
<line x1="679" y1="870.2" x2="679" y2="885.7" stroke="#111" stroke-width="6.5"/>
<text transform="translate(679 931) scale(1 1.1)" font-size="43" text-anchor="middle" >400</text>
<line x1="908.8" y1="870.2" x2="908.8" y2="885.7" stroke="#111" stroke-width="6.5"/>
<text transform="translate(908.8 931) scale(1 1.1)" font-size="43" text-anchor="middle" >200</text>
<line x1="1138.6" y1="870.2" x2="1138.6" y2="885.7" stroke="#111" stroke-width="6.5"/>
<text transform="translate(1138.6 931) scale(1 1.1)" font-size="43" text-anchor="middle" >0</text>
<line x1="104.6" y1="870.2" x2="104.6" y2="878.2" stroke="#111" stroke-width="6.5"/>
<line x1="334.4" y1="870.2" x2="334.4" y2="878.2" stroke="#111" stroke-width="6.5"/>
<line x1="564.2" y1="870.2" x2="564.2" y2="878.2" stroke="#111" stroke-width="6.5"/>
<line x1="793.9" y1="870.2" x2="793.9" y2="878.2" stroke="#111" stroke-width="6.5"/>
<line x1="1023.7" y1="870.2" x2="1023.7" y2="878.2" stroke="#111" stroke-width="6.5"/>
<rect x="1238.3" y="25.6" width="1030.3" height="842.2" fill="none" stroke="#111" stroke-width="9"/>
<line x1="1238.3" y1="867.8" x2="1238.3" y2="883.3" stroke="#111" stroke-width="6.5"/>
<text transform="translate(1238.3 930.5) scale(1 1.1)" font-size="43" text-anchor="middle" >200</text>
<line x1="1352.8" y1="867.8" x2="1352.8" y2="883.3" stroke="#111" stroke-width="6.5"/>
<text transform="translate(1352.8 930.5) scale(1 1.1)" font-size="43" text-anchor="middle" >198</text>
<line x1="1467.3" y1="867.8" x2="1467.3" y2="883.3" stroke="#111" stroke-width="6.5"/>
<text transform="translate(1467.3 930.5) scale(1 1.1)" font-size="43" text-anchor="middle" >196</text>
<line x1="1581.7" y1="867.8" x2="1581.7" y2="883.3" stroke="#111" stroke-width="6.5"/>
<text transform="translate(1581.7 930.5) scale(1 1.1)" font-size="43" text-anchor="middle" >194</text>
<line x1="1696.2" y1="867.8" x2="1696.2" y2="883.3" stroke="#111" stroke-width="6.5"/>
<text transform="translate(1696.2 930.5) scale(1 1.1)" font-size="43" text-anchor="middle" >192</text>
<line x1="1810.7" y1="867.8" x2="1810.7" y2="883.3" stroke="#111" stroke-width="6.5"/>
<text transform="translate(1810.7 930.5) scale(1 1.1)" font-size="43" text-anchor="middle" >190</text>
<line x1="1925.2" y1="867.8" x2="1925.2" y2="883.3" stroke="#111" stroke-width="6.5"/>
<text transform="translate(1925.2 930.5) scale(1 1.1)" font-size="43" text-anchor="middle" >188</text>
<line x1="2039.6" y1="867.8" x2="2039.6" y2="883.3" stroke="#111" stroke-width="6.5"/>
<text transform="translate(2039.6 930.5) scale(1 1.1)" font-size="43" text-anchor="middle" >186</text>
<line x1="2154.1" y1="867.8" x2="2154.1" y2="883.3" stroke="#111" stroke-width="6.5"/>
<text transform="translate(2154.1 930.5) scale(1 1.1)" font-size="43" text-anchor="middle" >184</text>
<line x1="2268.6" y1="867.8" x2="2268.6" y2="883.3" stroke="#111" stroke-width="6.5"/>
<text transform="translate(2268.6 930.5) scale(1 1.1)" font-size="43" text-anchor="middle" >182</text>
<line x1="1295.5" y1="867.8" x2="1295.5" y2="875.8" stroke="#111" stroke-width="6.5"/>
<line x1="1410" y1="867.8" x2="1410" y2="875.8" stroke="#111" stroke-width="6.5"/>
<line x1="1524.5" y1="867.8" x2="1524.5" y2="875.8" stroke="#111" stroke-width="6.5"/>
<line x1="1639" y1="867.8" x2="1639" y2="875.8" stroke="#111" stroke-width="6.5"/>
<line x1="1753.4" y1="867.8" x2="1753.4" y2="875.8" stroke="#111" stroke-width="6.5"/>
<line x1="1867.9" y1="867.8" x2="1867.9" y2="875.8" stroke="#111" stroke-width="6.5"/>
<line x1="1982.4" y1="867.8" x2="1982.4" y2="875.8" stroke="#111" stroke-width="6.5"/>
<line x1="2096.9" y1="867.8" x2="2096.9" y2="875.8" stroke="#111" stroke-width="6.5"/>
<line x1="2211.4" y1="867.8" x2="2211.4" y2="875.8" stroke="#111" stroke-width="6.5"/>
<rect x="101.9" y="1066.6" width="1033.3" height="848.2" fill="none" stroke="#111" stroke-width="9"/>
<line x1="181.4" y1="1914.8" x2="181.4" y2="1930.3" stroke="#111" stroke-width="6.5"/>
<text transform="translate(181.4 1977.5) scale(1 1.1)" font-size="43" text-anchor="middle" >238</text>
<line x1="340.4" y1="1914.8" x2="340.4" y2="1930.3" stroke="#111" stroke-width="6.5"/>
<text transform="translate(340.4 1977.5) scale(1 1.1)" font-size="43" text-anchor="middle" >236</text>
<line x1="499.3" y1="1914.8" x2="499.3" y2="1930.3" stroke="#111" stroke-width="6.5"/>
<text transform="translate(499.3 1977.5) scale(1 1.1)" font-size="43" text-anchor="middle" >234</text>
<line x1="658.3" y1="1914.8" x2="658.3" y2="1930.3" stroke="#111" stroke-width="6.5"/>
<text transform="translate(658.3 1977.5) scale(1 1.1)" font-size="43" text-anchor="middle" >232</text>
<line x1="817.3" y1="1914.8" x2="817.3" y2="1930.3" stroke="#111" stroke-width="6.5"/>
<text transform="translate(817.3 1977.5) scale(1 1.1)" font-size="43" text-anchor="middle" >230</text>
<line x1="976.2" y1="1914.8" x2="976.2" y2="1930.3" stroke="#111" stroke-width="6.5"/>
<text transform="translate(976.2 1977.5) scale(1 1.1)" font-size="43" text-anchor="middle" >228</text>
<line x1="1135.2" y1="1914.8" x2="1135.2" y2="1930.3" stroke="#111" stroke-width="6.5"/>
<text transform="translate(1135.2 1977.5) scale(1 1.1)" font-size="43" text-anchor="middle" >226</text>
<line x1="101.9" y1="1914.8" x2="101.9" y2="1922.8" stroke="#111" stroke-width="6.5"/>
<line x1="260.9" y1="1914.8" x2="260.9" y2="1922.8" stroke="#111" stroke-width="6.5"/>
<line x1="419.8" y1="1914.8" x2="419.8" y2="1922.8" stroke="#111" stroke-width="6.5"/>
<line x1="578.8" y1="1914.8" x2="578.8" y2="1922.8" stroke="#111" stroke-width="6.5"/>
<line x1="737.8" y1="1914.8" x2="737.8" y2="1922.8" stroke="#111" stroke-width="6.5"/>
<line x1="896.7" y1="1914.8" x2="896.7" y2="1922.8" stroke="#111" stroke-width="6.5"/>
<line x1="1055.7" y1="1914.8" x2="1055.7" y2="1922.8" stroke="#111" stroke-width="6.5"/>
<rect x="1240.5" y="1066.2" width="1039.7" height="852.6" fill="none" stroke="#111" stroke-width="9"/>
<line x1="1347.1" y1="1918.8" x2="1347.1" y2="1934.3" stroke="#111" stroke-width="6.5"/>
<text transform="translate(1347.1 1980.5) scale(1 1.1)" font-size="43" text-anchor="middle" >164</text>
<line x1="1613.7" y1="1918.8" x2="1613.7" y2="1934.3" stroke="#111" stroke-width="6.5"/>
<text transform="translate(1613.7 1980.5) scale(1 1.1)" font-size="43" text-anchor="middle" >163</text>
<line x1="1880.3" y1="1918.8" x2="1880.3" y2="1934.3" stroke="#111" stroke-width="6.5"/>
<text transform="translate(1880.3 1980.5) scale(1 1.1)" font-size="43" text-anchor="middle" >162</text>
<line x1="2146.9" y1="1918.8" x2="2146.9" y2="1934.3" stroke="#111" stroke-width="6.5"/>
<text transform="translate(2146.9 1980.5) scale(1 1.1)" font-size="43" text-anchor="middle" >161</text>
<line x1="1480.4" y1="1918.8" x2="1480.4" y2="1926.8" stroke="#111" stroke-width="6.5"/>
<line x1="1747" y1="1918.8" x2="1747" y2="1926.8" stroke="#111" stroke-width="6.5"/>
<line x1="2013.6" y1="1918.8" x2="2013.6" y2="1926.8" stroke="#111" stroke-width="6.5"/>
<line x1="2280.2" y1="1918.8" x2="2280.2" y2="1926.8" stroke="#111" stroke-width="6.5"/>
<text transform="translate(621.5 988.8) scale(1 1.05)" font-size="54.5" text-anchor="middle" >Binding energy(eV)</text>
<text transform="translate(1754.2 985.8) scale(1 1.05)" font-size="54.5" text-anchor="middle" >Binding Energy(eV)</text>
<text transform="translate(618.5 2037.5) scale(1 1.05)" font-size="54.5" text-anchor="middle" >Binding Energy(eV)</text>
<text transform="translate(1758.5 2035.8) scale(1 1.05)" font-size="54.5" text-anchor="middle" >Binding Energy(eV)</text>
<text transform="translate(62.5 444.5) rotate(-90)" font-size="55.6" text-anchor="middle" >Intensity(a.u.)</text>
<text transform="translate(1196.5 444.5) rotate(-90)" font-size="55.6" text-anchor="middle" >Intensity(a.u.)</text>
<text transform="translate(61.5 1488.5) rotate(-90)" font-size="55.6" text-anchor="middle" >Intensity(a.u.)</text>
<text transform="translate(1201.5 1488.5) rotate(-90)" font-size="55.6" text-anchor="middle" >Intensity(a.u.)</text>
<text transform="translate(123.5 84)" font-size="65.5" text-anchor="start" >(a)</text>
<text transform="translate(1251 84)" font-size="65.5" text-anchor="start" >(b)</text>
<text transform="translate(121 1127.5)" font-size="65.5" text-anchor="start" >(c)</text>
<text transform="translate(1253 1127.5)" font-size="65.5" text-anchor="start" >(d)</text>
<text transform="translate(683 88.3) scale(1 1.03)" font-size="55" text-anchor="middle" >N 1s</text>
<text transform="translate(808.5 460.5)" font-size="55" text-anchor="middle" >C 1s</text>
<text transform="translate(878 668.5) rotate(-90)" font-size="51" text-anchor="middle" >Mo 3d</text>
<text transform="translate(936 688) rotate(-90)" font-size="51" text-anchor="middle" >B 1s</text>
<text transform="translate(2207 82.5)" font-size="51" text-anchor="middle" >B 1s</text>
<text transform="translate(1745 134.5)" font-size="51" text-anchor="middle" >191.7</text>
<text transform="translate(1053 1123)" font-size="51" text-anchor="middle" >Mo 3d</text>
<text transform="translate(618 1330) scale(1 1.11)" font-size="53.5" text-anchor="middle" >232.3</text>
<text transform="translate(873.5 1493.7) scale(1 1.11)" font-size="53.5" text-anchor="middle" >229.3</text>
<text transform="translate(379.5 1699) scale(1 1.1)" font-size="53.5" text-anchor="middle" >235.8</text>
<text transform="translate(2211 1127.5)" font-size="51" text-anchor="middle" >S 2p</text>
<text transform="translate(1511.5 1365)" font-size="51" text-anchor="middle" >163.2</text>
<text transform="translate(1984 1368)" font-size="51" text-anchor="middle" >162</text>
<line x1="1510" y1="1364" x2="1589" y2="1446" stroke="#151515" stroke-width="5"/><polygon points="1601.5,1459 1583.3,1451.6 1594.8,1440.5" fill="#111"/><line x1="1974.5" y1="1371" x2="1888.7" y2="1419.2" stroke="#151515" stroke-width="5"/><polygon points="1873,1428 1884.8,1412.2 1892.6,1426.2" fill="#111"/>
</g>
</svg></body></html>
